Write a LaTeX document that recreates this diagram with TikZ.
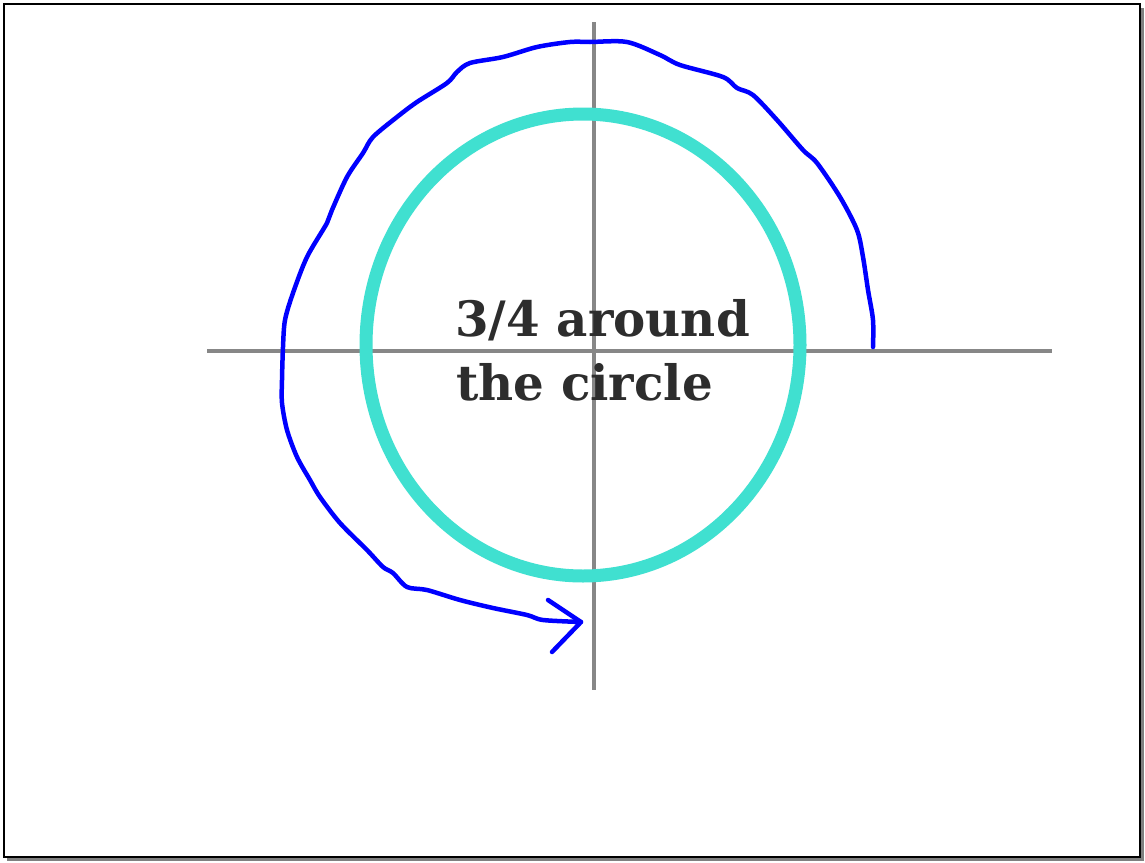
\documentclass[tikz,border=0pt]{standalone}
\usepackage{fontspec}
\newfontfamily\hand{DejaVu Serif}[UprightFont=* Bold]
\definecolor{turq}{RGB}{64,224,208}
\definecolor{axisgray}{RGB}{135,135,135}
\definecolor{txtgray}{RGB}{45,45,45}
\definecolor{shadowgray}{RGB}{128,128,128}
\tikzset{
  axisline/.style={draw=axisgray, line width=4pt},
  ring/.style={draw=turq, line width=13pt},
  turnpath/.style={draw=blue, line width=4.5pt, line cap=round, line join=round},
  label/.style={font=\hand\fontsize{46}{46}\selectfont, text=txtgray, anchor=base west, inner sep=0pt, yscale=1.06, xscale=1.05}
}
\begin{document}
\begin{tikzpicture}[x=1pt,y=-1pt]
\useasboundingbox (0,0) rectangle (1145,862);
% frame with shadow
\fill[shadowgray] (7,8) rectangle (1144,861);
\filldraw[fill=white, draw=black, line width=1.3pt] (4,4) rectangle (1140,857);
% axes
\coordinate (hl) at (207,351);
\coordinate (hr) at (1052,351);
\coordinate (vt) at (594,22);
\coordinate (vb) at (594,690);
\draw[axisline] (hl) -- (hr);
\draw[axisline] (vt) -- (vb);
% circle
\coordinate (c) at (583,345);
\draw[ring] (c) ellipse [x radius=217, y radius=231];
% text
\node[label] (t1) at (455,336) {3/4 around};
\node[label] (t2) at (456,400) {the circle};
% blue path
\coordinate (s) at (873,347);
\coordinate (tip) at (581,622);
\coordinate (b1) at (548,600);
\coordinate (b2) at (552,652);
\draw[turnpath] plot[smooth, tension=0.5] coordinates {
 (873,347) (873,320) (868,290) (863,257) (857,230) (840,197) (817,163) (803,150)
 (777,120) (753,95) (737,88) (723,77) (680,65) (660,55) (627,42) (590,42)
 (570,42) (537,47) (503,57) (470,63) (457,72) (447,83) (417,102) (397,117)
 (373,137) (363,153) (347,177) (332,210) (327,223) (307,257) (293,293) (285,320)
 (283,347) (282,380) (282,403) (287,430) (297,457) (310,480) (320,497) (340,523)
 (367,550) (383,567) (393,573) (407,587) (427,590) (460,600) (493,608) (527,615)
 (543,620) (581,622)};
\draw[turnpath] (b1) -- (tip) -- (b2);
\end{tikzpicture}
\end{document}
